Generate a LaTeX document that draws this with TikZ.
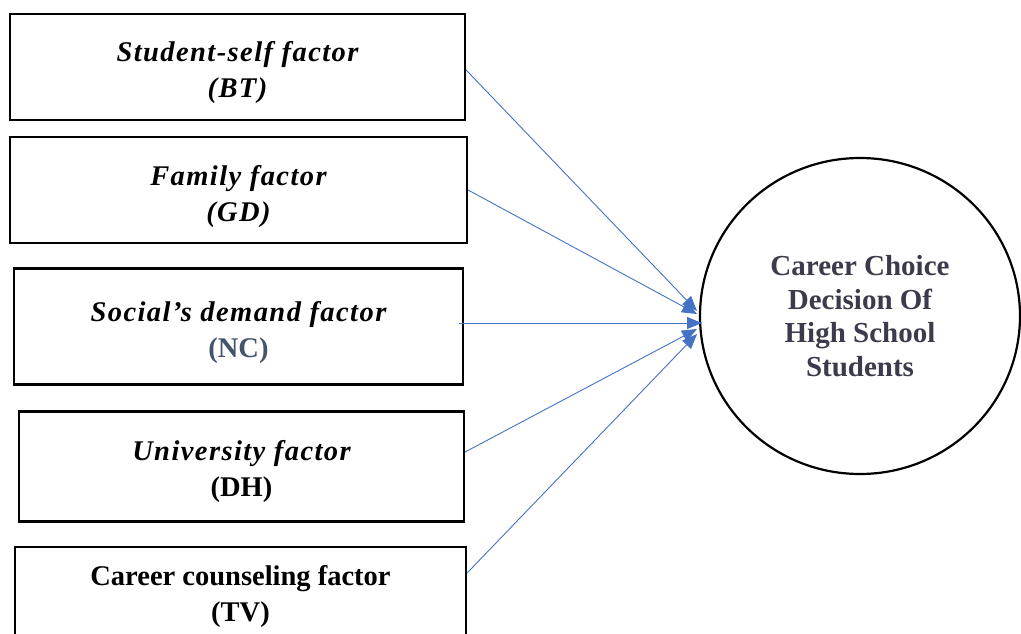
\documentclass[tikz,border=0pt]{standalone}
\usepackage{fontspec}
\setmainfont{Liberation Serif}
\usetikzlibrary{arrows.meta,calc,shapes.geometric}
\definecolor{arrowblue}{HTML}{4472C4}
\definecolor{slate}{HTML}{44546A}
\definecolor{circtext}{HTML}{3B3B4B}
\newcommand{\spit}[1]{{\bfseries\itshape\addfontfeatures{LetterSpace=5}#1}}
\begin{document}
\begin{tikzpicture}[x=1pt,y=-1pt,
  box/.style={draw=black, line width=2.2pt, inner sep=0pt, minimum width=#1, minimum height=106pt},
  boxtext/.style={inner sep=0pt, align=center, font=\fontsize{28.5}{36}\selectfont},
  conn/.style={arrowblue, line width=0.9pt, -{Triangle[length=15pt,width=12pt]}}]
\useasboundingbox (0,0) rectangle (1021,634);
\clip (0,0) rectangle (1021,634);
\node[box=455pt] (b1) at (237.5,67) {};
\node[box=457pt] (b2) at (238.5,190) {};
\node[box=449pt, minimum height=116pt] (b3) at (238.5,326.5) {};
\node[box=445pt, minimum height=110pt] (b4) at (241.5,466.5) {};
\node[box=451pt] (b5) at (240.5,600) {};
\node[boxtext] (l1) at ([yshift=-6pt]b1.center) {\spit{Student-self factor}\\\spit{(BT)}};
\node[boxtext] (l2) at ([yshift=-6pt]b2.center) {\spit{Family factor}\\\spit{(GD)}};
\node[boxtext] (l3) at ([yshift=-6pt]b3.center) {\spit{Social’s demand factor}\\{\bfseries\color{slate}(NC)}};
\node[boxtext] (l4) at ([yshift=-5pt]b4.center) {\spit{University factor}\\{\bfseries (DH)}};
\node[boxtext] (l5) at ([yshift=4pt]b5.center) {{\bfseries Career counseling factor}\\{\bfseries (TV)}};
\node[draw=black, line width=2.2pt, ellipse, minimum width=320pt, minimum height=316pt, inner sep=0pt, align=center, text=circtext, font=\fontsize{29}{33.5}\selectfont\bfseries] (c) at (860,316) {Career Choice\\Decision Of\\High School\\Students};
\coordinate (t1) at (697,311);
\coordinate (t2) at (697,314);
\coordinate (t3) at (702,323);
\coordinate (t4) at (697,329);
\coordinate (t5) at (697,334);
\draw[conn] ([yshift=-3pt]b1.east) -- (t1);
\draw[conn] (b2.east) -- (t2);
\draw[conn] ([xshift=-5pt,yshift=3.5pt]b3.east) -- (t3);
\draw[conn] ([yshift=14.5pt]b4.east) -- (t4);
\draw[conn] ([yshift=27pt]b5.east) -- (t5);
\end{tikzpicture}
\end{document}
